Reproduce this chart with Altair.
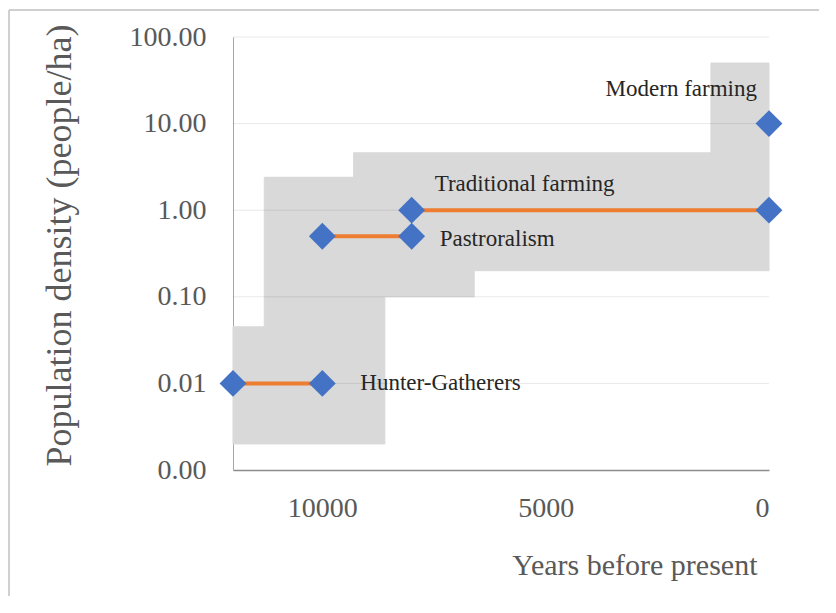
import altair as alt
import pandas as pd

# ---- data ----
# Subsistence phases: start/end points (years before present, people/ha)
phase_names = ["Hunter-Gatherers", "Hunter-Gatherers", "Pastroralism", "Pastroralism",
               "Traditional farming", "Traditional farming", "Modern farming"]
phase_years = [12000, 10000, 10000, 8000, 8000, 0, 0]
phase_density = [0.01, 0.01, 0.5, 0.5, 1.0, 1.0, 10.0]

# Grey shaded range (stepped bands)
band_start = [12000, 11300, 9300, 8600, 6600, 1300]
band_end = [11300, 9300, 8600, 6600, 1300, 0]
band_low = [0.002, 0.002, 0.002, 0.1, 0.2, 0.2]
band_high = [0.045, 2.4, 4.6, 4.6, 4.6, 50]

# Annotation labels and their anchor points
label_text = ["Hunter-Gatherers", "Pastroralism", "Traditional farming", "Modern farming"]
label_year = [10000, 8000, 8000, 0]
label_density = [0.01, 0.5, 1.0, 10.0]

y_ticks = [0.001, 0.01, 0.1, 1, 10, 100]
x_ticks = [10000, 5000, 0]

phases = pd.DataFrame({"phase": phase_names, "year": phase_years, "density": phase_density})
bands = pd.DataFrame({"x0": band_start, "x1": band_end, "lo": band_low, "hi": band_high})
labels = pd.DataFrame({"text": label_text, "year": label_year, "density": label_density})
grid = pd.DataFrame({"v": y_ticks[1:]})

FONT = "Liberation Serif"

x_scale = alt.Scale(domain=[0, 12000], reverse=True, nice=False, zero=False)
y_scale = alt.Scale(type="log", domain=[0.001, 100], nice=False)

x_axis = alt.Axis(values=x_ticks, format="d", grid=False, ticks=False,
                  labelFont=FONT, labelFontSize=28, labelColor="#595959", labelPadding=24,
                  domainColor="#8c8c8c", domainWidth=1.5,
                  title="Years before present", titleFont=FONT, titleFontSize=30,
                  titleFontWeight="normal", titleColor="#595959",
                  titleAlign="right", titleX=524, titleY=104, titleBaseline="alphabetic")
y_axis = alt.Axis(values=y_ticks, format=".2f", grid=False,
                  ticks=False, labelFont=FONT, labelFontSize=28, labelColor="#595959",
                  labelPadding=27, domainColor="#a6a6a6", domainWidth=1,
                  title="Population density (people/ha)", titleFont=FONT, titleFontSize=36,
                  titleFontWeight="normal", titleColor="#595959", titlePadding=51,
                  titleY=208)

band_layer = alt.Chart(bands).mark_rect(color="#d9d9d9", stroke="#d9d9d9", strokeWidth=1).encode(
    x=alt.X("x0:Q", scale=x_scale, axis=x_axis),
    x2="x1:Q",
    y=alt.Y("lo:Q", scale=y_scale, axis=y_axis),
    y2="hi:Q",
)

grid_layer = alt.Chart(grid).mark_rule(color="#000000", opacity=0.09, strokeWidth=1).encode(
    y=alt.Y("v:Q", scale=y_scale, axis=y_axis),
)

line_layer = alt.Chart(phases).mark_line(color="#ED7D31", strokeWidth=4).encode(
    x=alt.X("year:Q", scale=x_scale, axis=x_axis),
    y=alt.Y("density:Q", scale=y_scale, axis=y_axis),
    detail="phase:N",
)

point_layer = alt.Chart(phases).mark_point(
    shape="diamond", filled=True, color="#4472C4", size=720, opacity=1
).encode(
    x=alt.X("year:Q", scale=x_scale, axis=x_axis),
    y=alt.Y("density:Q", scale=y_scale, axis=y_axis),
)

text_style = {
    "Hunter-Gatherers": dict(align="left", dx=38, dy=0),
    "Pastroralism": dict(align="left", dx=28, dy=3),
    "Traditional farming": dict(align="left", dx=23, dy=-26),
    "Modern farming": dict(align="right", dx=-12, dy=-35),
}

text_layers = []
for name, st in text_style.items():
    text_layers.append(
        alt.Chart(labels).transform_filter(alt.datum.text == name).mark_text(
            font=FONT, fontSize=23, color="#262626", baseline="middle", **st
        ).encode(
            x=alt.X("year:Q", scale=x_scale, axis=x_axis),
            y=alt.Y("density:Q", scale=y_scale, axis=y_axis),
            text="text:N",
        )
    )

# light chart-area frame (top and left edges, as in the reference)
frame_top = alt.Chart(grid).mark_rule(color="#d0d0d0", strokeWidth=2, clip=False).encode(
    x=alt.value(-224), x2=alt.value(586), y=alt.value(-27)
)
frame_left = alt.Chart(grid).mark_rule(color="#d0d0d0", strokeWidth=2, clip=False).encode(
    x=alt.value(-224), y=alt.value(-27), y2=alt.value(580)
)

chart = alt.layer(band_layer, grid_layer, line_layer, point_layer, *text_layers,
                  frame_top, frame_left).properties(
    width=536, height=433,
    autosize=alt.AutoSizeParams(type="none"),
    padding={"left": 225, "top": 29, "right": 50, "bottom": 126},
).configure_view(stroke=None)

chart.save("out.html", embed_options={"renderer": "svg", "actions": False})
